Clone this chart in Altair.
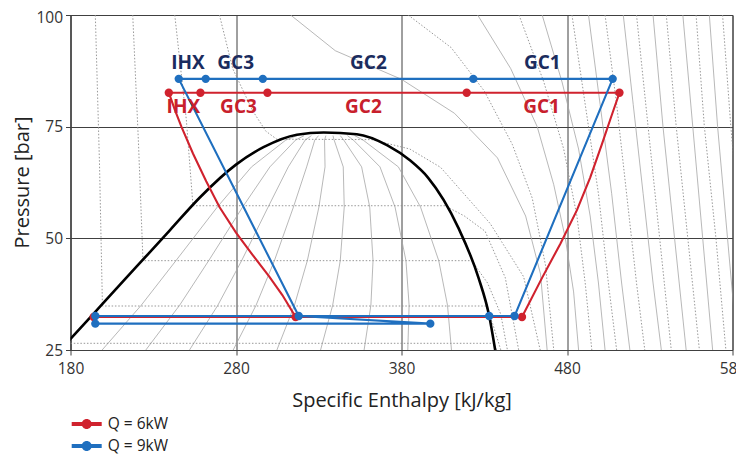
import altair as alt
import pandas as pd

# ---------------- axes ----------------
X_TICKS = [180, 280, 380, 480, 580]
Y_TICKS = [25, 50, 75, 100]
SERIES = ["Q = 6kW", "Q = 9kW"]
RED = "#d0222e"
BLUE = "#1f6fbf"
RED_TXT = "#c8202c"
BLUE_TXT = "#1b2c5e"

# ---------------- saturation dome ----------------
DOME_H = [176, 180, 200, 220, 240, 258.3, 280, 296.6, 316.8, 333, 353, 371.5, 385.3, 396, 414.3, 426.5, 433, 436.6]
DOME_P = [25.9, 27.5, 35.6, 43.7, 51.8, 59.2, 66.5, 70.4, 73.2, 73.7, 73.3, 70.8, 67.4, 63.6, 52.4, 41.2, 32.6, 25]

# ---------------- constant-quality lines (solid, inside dome) ----------------
QUALITY_P = [25, 35, 45, 57, 66, 72, 73]
QUALITY_H = [
    [199.1, 222.7, 243.7, 268.7, 289.4, 310.1, 316.9],
    [225.5, 245.9, 263.5, 284.0, 300.5, 316.0, 321.2],
    [251.9, 269.0, 283.4, 299.4, 311.6, 321.8, 325.6],
    [278.3, 292.1, 303.2, 314.7, 322.7, 327.6, 329.9],
    [304.7, 315.3, 323.1, 330.1, 333.8, 333.5, 334.3],
    [331.1, 338.4, 343.0, 345.4, 344.8, 339.3, 338.6],
    [357.4, 361.5, 362.8, 360.8, 355.9, 345.1, 343.0],
    [383.8, 384.6, 382.7, 376.1, 367.0, 350.9, 347.3],
    [410.2, 407.8, 402.5, 391.5, 378.1, 356.8, 351.7],
]

# ---------------- isotherms (dotted) ----------------
ISO_M10_H = [176, 435.8, 437.5]
ISO_M10_P = [26.5, 26.5, 25]
ISO_0_H = [195, 197.5, 199.3, 431, 435, 440]
ISO_0_P = [100, 67, 34.85, 34.85, 31, 25]
ISO_10_H = [217.6, 221, 223.8, 422.4, 432, 440, 444]
ISO_10_P = [100, 72, 45, 45, 40, 33, 25]
ISO_20_H = [243, 250, 254, 406.3, 418, 430.5, 442.7, 450.8]
ISO_20_P = [100, 76.5, 57.3, 57.3, 55, 51.6, 41.2, 25]
ISO_30_H = [270, 278, 290, 298, 304.6, 362, 385, 403.6, 433.6, 453.8, 463.8]
ISO_30_P = [100, 88, 78.6, 74, 72.2, 72.1, 70, 65.9, 53.3, 41.4, 25]

# ---------------- supercritical / superheated curves ----------------
SOLID_CURVES = [
    ([313, 340, 380, 412, 438, 455, 464, 468], [100, 92, 85.6, 78, 68, 55, 42, 25]),
    ([426, 446, 462, 472, 479, 484, 487], [100, 88, 75, 62, 50, 38, 25]),
    ([465, 477, 487, 494, 499, 503], [100, 85, 70, 55, 40, 25]),
    ([493, 500, 507, 513, 518], [100, 80, 60, 40, 25]),
    ([514, 520, 526, 532, 537], [100, 80, 60, 40, 25]),
    ([532, 538, 545, 552], [100, 75, 50, 25]),
    ([550, 556, 562, 568], [100, 75, 50, 25]),
    ([566, 571, 577, 583], [100, 75, 50, 25]),
]
DOTTED_CURVES = [
    ([384, 410, 430, 447, 459, 467, 472], [100, 92.7, 83, 71, 59, 44, 25]),
    ([451, 466, 478, 486, 491, 495], [100, 85, 70, 55, 40, 25]),
    ([483, 491, 499, 505, 510], [100, 80, 60, 40, 25]),
    ([503, 510, 516, 522, 527], [100, 80, 60, 40, 25]),
    ([522, 529, 536, 543], [100, 75, 50, 25]),
    ([540, 546, 553, 560], [100, 75, 50, 25]),
    ([558, 563, 570, 576], [100, 75, 50, 25]),
    ([574, 579, 585, 590], [100, 75, 50, 25]),
]

# ---------------- cycles ----------------
RED_H = [452.8, 465, 476, 486, 494, 501, 506.5, 511.7, 419.4, 299, 258.5, 239.4,
         243, 247, 254, 262, 270, 280, 290, 300, 308, 316, 194, 452.8]
RED_P = [32.4, 41.2, 48.8, 56.3, 63.6, 71, 77, 82.6, 82.6, 82.6, 82.6, 82.6,
         78.8, 75, 69, 62.8, 57, 51.3, 46.3, 41.5, 37.3, 32.4, 32.4, 32.4]
RED_MARK = [1, 0, 0, 0, 0, 0, 0, 1, 1, 1, 1, 1,
            0, 0, 0, 0, 0, 0, 0, 0, 0, 1, 1, 0]

BLUE_H = [448.3, 507.6, 423.4, 296.2, 261.7, 245.4, 317.9, 195, 195, 397.4, 317.9, 433, 448.3]
BLUE_P = [32.6, 85.7, 85.7, 85.7, 85.7, 85.7, 32.6, 32.6, 30.9, 30.9, 32.6, 32.6, 32.6]
BLUE_MARK = [1, 1, 1, 1, 1, 1, 1, 1, 1, 1, 0, 1, 0]

LABELS = ["IHX", "GC3", "GC2", "GC1"]
BLUE_LABEL_H = [251, 279.8, 360, 465.1]
BLUE_LABEL_P = [89.3, 89.3, 89.3, 89.3]
RED_LABEL_H = [248.2, 281.5, 357, 464.6]
RED_LABEL_P = [79.4, 79.4, 79.4, 79.4]


def frame(hs, ps, name):
    return pd.DataFrame({"h": hs, "P": ps, "line": name, "k": list(range(len(hs)))})


solid_parts = [frame(hh, QUALITY_P, f"q{i}") for i, hh in enumerate(QUALITY_H)]
solid_parts += [frame(hh, pp, f"s{i}") for i, (hh, pp) in enumerate(SOLID_CURVES)]
solid_df = pd.concat(solid_parts, ignore_index=True)

dotted_parts = [
    frame(ISO_M10_H, ISO_M10_P, "tm10"),
    frame(ISO_0_H, ISO_0_P, "t0"),
    frame(ISO_10_H, ISO_10_P, "t10"),
    frame(ISO_20_H, ISO_20_P, "t20"),
    frame(ISO_30_H, ISO_30_P, "t30"),
]
dotted_parts += [frame(hh, pp, f"d{i}") for i, (hh, pp) in enumerate(DOTTED_CURVES)]
dotted_df = pd.concat(dotted_parts, ignore_index=True)

dome_df = frame(DOME_H, DOME_P, "dome")
red_df = frame(RED_H, RED_P, "red")
blue_df = frame(BLUE_H, BLUE_P, "blue")

red_pts = red_df[[m == 1 for m in RED_MARK]].assign(series=SERIES[0])
blue_pts = blue_df[[m == 1 for m in BLUE_MARK]].assign(series=SERIES[1])
pts_df = pd.concat([red_pts, blue_pts], ignore_index=True)

blue_lab = pd.DataFrame({"h": BLUE_LABEL_H, "P": BLUE_LABEL_P, "t": LABELS})
red_lab = pd.DataFrame({"h": RED_LABEL_H, "P": RED_LABEL_P, "t": LABELS})

FONT = "Open Sans"
GRID = "#404040"

x = alt.X(
    "h:Q",
    scale=alt.Scale(domain=[180, 580], nice=False, zero=False),
    axis=alt.Axis(
        values=X_TICKS, format="d", title="Specific Enthalpy [kJ/kg]",
        grid=True, gridColor=GRID, gridWidth=1, gridOpacity=1,
        domainColor=GRID, tickColor=GRID, tickSize=5,
        labelFont=FONT, labelFontSize=15.5, labelColor="#333", labelPadding=6,
        labelFlush=False, labelOverlap=False,
        titleFont=FONT, titleFontSize=20, titleFontWeight="normal", titleColor="#222",
        titleX=331, titleY=50, titleBaseline="middle", titleAlign="center",
    ),
)
y = alt.Y(
    "P:Q",
    scale=alt.Scale(domain=[25, 100], nice=False, zero=False),
    axis=alt.Axis(
        values=Y_TICKS, format="d", title="Pressure [bar]",
        grid=True, gridColor=GRID, gridWidth=1, gridOpacity=1,
        domainColor=GRID, tickColor=GRID, tickSize=5,
        labelFont=FONT, labelFontSize=15.5, labelColor="#333", labelPadding=3,
        labelFlush=False, labelOverlap=False,
        labelOffset={"condition": {"test": "datum.value === 100", "value": 2}, "value": 0},
        titleFont=FONT, titleFontSize=20, titleFontWeight="normal", titleColor="#222",
        titleAngle=270, titleX=-48.5, titleY=167, titleBaseline="middle", titleAlign="center",
    ),
)

solid_layer = alt.Chart(solid_df).mark_line(color="#a6a6a6", strokeWidth=0.8, clip=True).encode(
    x=x, y=y, detail="line:N", order="k:Q")
dotted_layer = alt.Chart(dotted_df).mark_line(
    color="#8c8c8c", strokeWidth=0.9, strokeDash=[1.5, 1.8], clip=True).encode(
    x=x, y=y, detail="line:N", order="k:Q")
dome_layer = alt.Chart(dome_df).mark_line(color="#000000", strokeWidth=2.6, clip=True,
                                          interpolate="monotone").encode(x=x, y=y, order="k:Q")
red_layer = alt.Chart(red_df).mark_line(color=RED, strokeWidth=2.1, clip=True).encode(
    x=x, y=y, order="k:Q")
blue_layer = alt.Chart(blue_df).mark_line(color=BLUE, strokeWidth=2.1, clip=True).encode(
    x=x, y=y, order="k:Q")

LEG_PATH = ("M-1.5,-0.2L1.5,-0.2L1.5,0.2L-1.5,0.2Z"
            "M0.5,0A0.5,0.5,0,1,1,-0.5,0A0.5,0.5,0,1,1,0.5,0Z")

pts_layer = alt.Chart(pts_df).mark_circle(size=70, opacity=1).encode(
    x=x, y=y,
    color=alt.Color(
        "series:N",
        scale=alt.Scale(domain=SERIES, range=[RED, BLUE]),
        legend=alt.Legend(
            title=None, orient="none", legendX=6.2, legendY=399, direction="vertical",
            symbolType=LEG_PATH, symbolSize=400, symbolStrokeWidth=0, symbolOpacity=1,
            labelFont=FONT, labelFontSize=15.5, labelColor="#222", labelOffset=11,
            rowPadding=3, padding=0,
        ),
    ),
)

blue_text = alt.Chart(blue_lab).mark_text(
    font=FONT, fontSize=19, fontWeight="bold", color=BLUE_TXT, baseline="middle", align="center"
).encode(x=x, y=y, text="t:N")
red_text = alt.Chart(red_lab).mark_text(
    font=FONT, fontSize=19, fontWeight="bold", color=RED_TXT, baseline="middle", align="center"
).encode(x=x, y=y, text="t:N")

chart = alt.layer(
    solid_layer, dotted_layer, dome_layer, red_layer, blue_layer, pts_layer, blue_text, red_text
).properties(
    width=662, height=335,
    padding={"left": 62.5, "top": 7, "right": 3.5, "bottom": 107},
    autosize=alt.AutoSizeParams(type="none"),
).configure_view(stroke=GRID, strokeWidth=1)

chart.save("out.html", embed_options={"renderer": "svg", "actions": False})
